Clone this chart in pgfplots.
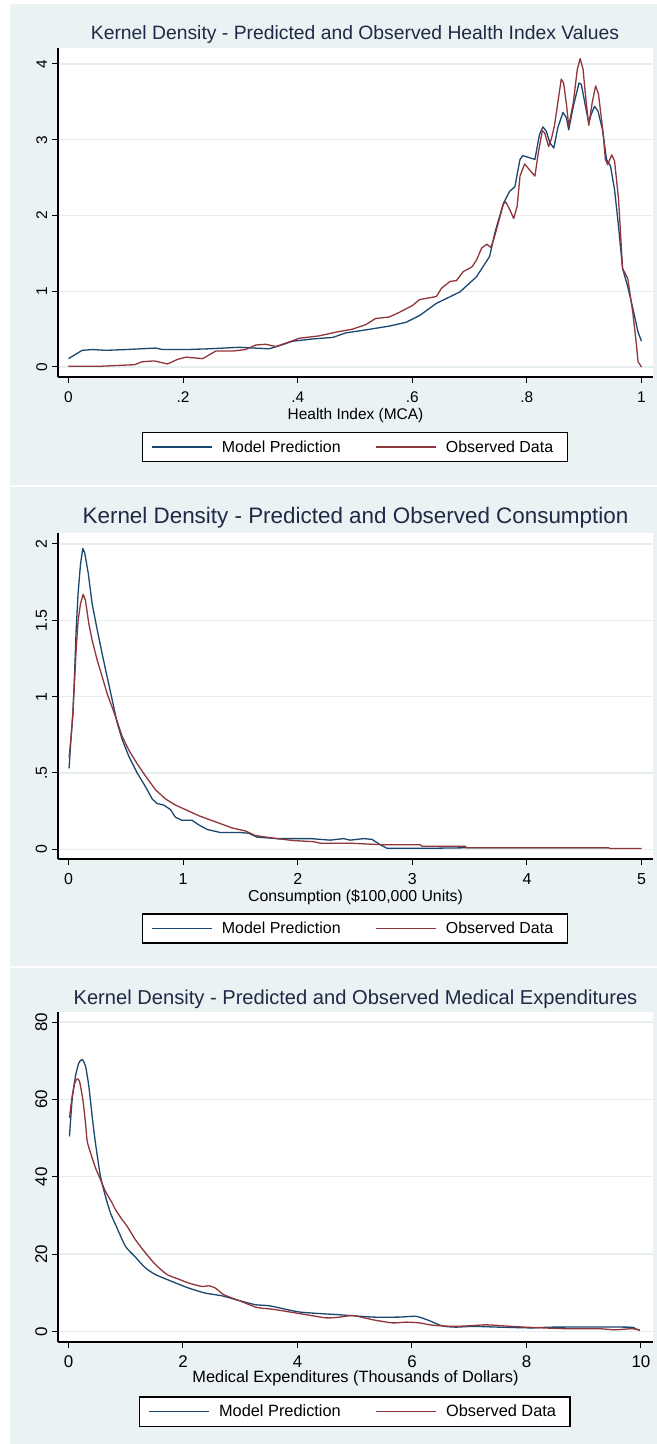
\documentclass[border=0pt]{standalone}
\usepackage{pgfplots}
\pgfplotsset{compat=1.18}
\usepackage{fontspec}
\setmainfont{Liberation Sans}
\definecolor{stbg}{RGB}{234,242,243}
\definecolor{stgrid}{RGB}{230,238,240}
\definecolor{stblue}{RGB}{26,71,111}
\definecolor{stred}{RGB}{144,53,59}
\definecolor{sttitle}{RGB}{30,42,70}

\pgfplotsset{
 statastyle/.style={
  scale only axis,
  axis x line*=bottom, axis y line*=left,
  axis line style={black, line width=1.1bp, -},
  tick align=outside,
  major tick length=6bp,
  tick style={black, line width=1bp},
  ymajorgrids, grid style={stgrid, line width=1.3bp},
  axis background/.style={fill=white},
  legend columns=2,
  legend cell align=left,
  legend style={draw=black, line width=1.1bp, fill=white, inner xsep=9bp, inner ysep=6bp,
     anchor=center,
     /tikz/every odd column/.append style={column sep=4bp},
     /tikz/every even column/.append style={column sep=30bp},
     nodes={inner xsep=5bp, inner ysep=2bp}},
  legend image code/.code={\draw[#1] (0bp,0bp) -- (60bp,0bp);},
  every axis plot/.append style={line width=1.3bp, line join=round},
  title style={anchor=base, text=sttitle, yshift=-5bp},
  xlabel style={anchor=base},
  yticklabel style={rotate=90, anchor=base, yshift=5bp},
  xticklabel style={anchor=base, yshift=-19.5bp},
 }
}

\begin{document}
\begin{tikzpicture}
\fill[white] (0,0) rectangle (657bp,1444bp);
\fill[stbg] (10bp,959bp) rectangle (657bp,1440bp);
\fill[stbg] (10bp,478bp) rectangle (657bp,957bp);
\fill[stbg] (10bp,0bp) rectangle (657bp,476bp);

% ---------------- Panel 1
\begin{axis}[statastyle,
  at={(58bp,1067bp)}, anchor=south west,
  width=595bp, height=329bp,
  xmin=-0.01832, xmax=1.0201, ymin=-0.132, ymax=4.211,
  xtick={0,0.2,0.4,0.6,0.8,1}, xticklabels={0,.2,.4,.6,.8,1},
  ytick={0,1,2,3,4}, yticklabels={0,1,2,3,4},
  tick label style={font=\fontsize{15.5}{18}\selectfont},
  xlabel={Health Index (MCA)},
  label style={font=\fontsize{15.5}{18}\selectfont},
  xlabel style={at={(0.5,-0.1307)}},
  title={Kernel Density - Predicted and Observed Health Index Values},
  title style={at={(0.4992,1.0243)}, font=\fontsize{19.4}{22}\selectfont},
  legend style={at={(0.499,-0.2128)}, font=\fontsize{16}{18}\selectfont},
]
\addplot[stblue] coordinates {
(0,0.11) (0.024,0.22) (0.042,0.23) (0.065,0.22) (0.10,0.23) (0.152,0.25) (0.164,0.23) (0.205,0.23) (0.245,0.24) (0.298,0.26) (0.35,0.24) (0.368,0.28) (0.391,0.34) (0.426,0.37) (0.461,0.39) (0.484,0.45) (0.519,0.49) (0.56,0.54) (0.589,0.59) (0.613,0.68) (0.642,0.84) (0.683,0.99) (0.712,1.19) (0.735,1.46) (0.744,1.77) (0.759,2.16) (0.770,2.32) (0.779,2.38) (0.788,2.74) (0.793,2.79) (0.814,2.74) (0.822,3.07) (0.828,3.17) (0.834,3.11) (0.840,2.96) (0.847,2.89) (0.854,3.16) (0.863,3.36) (0.869,3.29) (0.873,3.13) (0.881,3.44) (0.891,3.75) (0.895,3.73) (0.901,3.49) (0.908,3.22) (0.912,3.33) (0.918,3.44) (0.924,3.38) (0.932,3.13) (0.939,2.74) (0.946,2.65) (0.953,2.34) (0.960,1.85) (0.967,1.30) (0.976,1.06) (0.985,0.77) (0.994,0.46) (1.0,0.34)
};
\addlegendentry{Model Prediction}
\addplot[stred] coordinates {
(0,0.01) (0.056,0.01) (0.115,0.03) (0.129,0.07) (0.15,0.08) (0.173,0.04) (0.19,0.10) (0.205,0.13) (0.234,0.11) (0.257,0.21) (0.286,0.21) (0.309,0.23) (0.327,0.29) (0.344,0.30) (0.362,0.27) (0.385,0.33) (0.403,0.38) (0.437,0.41) (0.467,0.46) (0.496,0.50) (0.519,0.56) (0.536,0.64) (0.56,0.66) (0.577,0.72) (0.60,0.81) (0.613,0.89) (0.642,0.93) (0.651,1.04) (0.666,1.13) (0.677,1.14) (0.689,1.26) (0.704,1.32) (0.712,1.41) (0.721,1.57) (0.730,1.62) (0.737,1.58) (0.742,1.68) (0.750,1.90) (0.759,2.15) (0.763,2.18) (0.770,2.08) (0.777,1.96) (0.783,2.12) (0.788,2.52) (0.796,2.68) (0.805,2.60) (0.814,2.52) (0.820,2.83) (0.827,3.12) (0.831,3.09) (0.838,2.91) (0.843,3.02) (0.848,3.18) (0.854,3.49) (0.860,3.80) (0.864,3.75) (0.869,3.47) (0.873,3.18) (0.881,3.49) (0.888,3.93) (0.893,4.07) (0.898,3.93) (0.903,3.53) (0.908,3.19) (0.914,3.49) (0.920,3.71) (0.925,3.60) (0.933,3.09) (0.937,2.74) (0.941,2.67) (0.948,2.80) (0.953,2.72) (0.960,2.21) (0.967,1.30) (0.976,1.17) (0.985,0.71) (0.991,0.31) (0.994,0.07) (1.0,0.0)
};
\addlegendentry{Observed Data}
\end{axis}

% ---------------- Panel 2
\begin{axis}[statastyle,
  at={(58bp,585bp)}, anchor=south west,
  width=595bp, height=326bp,
  xmin=-0.0916, xmax=5.100, ymin=-0.0635, ymax=2.072,
  xtick={0,1,2,3,4,5}, xticklabels={0,1,2,3,4,5},
  ytick={0,0.5,1,1.5,2}, yticklabels={0,.5,1,1.5,2},
  tick label style={font=\fontsize{16}{18}\selectfont},
  xlabel={Consumption (\$100,000 Units)},
  label style={font=\fontsize{15.9}{18}\selectfont},
  xlabel style={at={(0.5,-0.1319)}},
  title={Kernel Density - Predicted and Observed Consumption},
  title style={at={(0.5,1.0276)}, font=\fontsize{22.5}{26}\selectfont},
  legend style={at={(0.499,-0.2132)}, font=\fontsize{16}{18}\selectfont},
]
\addplot[stblue] coordinates {
(0.005,0.53) (0.023,0.74) (0.038,0.88) (0.052,1.13) (0.067,1.44) (0.084,1.68) (0.105,1.87) (0.125,1.97) (0.142,1.94) (0.172,1.81) (0.206,1.61) (0.25,1.44) (0.294,1.28) (0.337,1.13) (0.381,0.98) (0.424,0.83) (0.468,0.72) (0.526,0.61) (0.599,0.50) (0.672,0.41) (0.73,0.33) (0.773,0.30) (0.831,0.29) (0.89,0.26) (0.933,0.21) (0.991,0.19) (1.078,0.19) (1.137,0.16) (1.209,0.13) (1.325,0.11) (1.5,0.11) (1.572,0.105) (1.645,0.08) (1.819,0.07) (2.11,0.07) (2.284,0.06) (2.40,0.07) (2.458,0.06) (2.575,0.07) (2.648,0.065) (2.72,0.03) (2.778,0.007) (3.185,0.007) (3.476,0.01) (4.711,0.01)
};
\addlegendentry{Model Prediction}
\addplot[stred] coordinates {
(0.005,0.60) (0.023,0.74) (0.038,0.89) (0.052,1.09) (0.067,1.31) (0.084,1.50) (0.105,1.61) (0.128,1.67) (0.148,1.63) (0.177,1.48) (0.206,1.37) (0.25,1.24) (0.294,1.13) (0.337,1.02) (0.381,0.93) (0.424,0.84) (0.468,0.74) (0.526,0.65) (0.599,0.56) (0.672,0.48) (0.759,0.39) (0.846,0.33) (0.933,0.29) (1.049,0.25) (1.137,0.22) (1.282,0.18) (1.427,0.14) (1.544,0.12) (1.631,0.09) (1.819,0.07) (1.965,0.057) (2.139,0.05) (2.197,0.04) (2.458,0.04) (2.735,0.03) (3.069,0.03) (3.084,0.02) (3.462,0.02) (3.476,0.01) (4.711,0.01) (4.726,0.005) (5.0,0.005)
};
\addlegendentry{Observed Data}
\end{axis}

% ---------------- Panel 3
\begin{axis}[statastyle,
  at={(58bp,102bp)}, anchor=south west,
  width=595bp, height=330bp,
  xmin=-0.1834, xmax=10.21, ymin=-2.74, ymax=82.59,
  xtick={0,2,4,6,8,10}, xticklabels={0,2,4,6,8,10},
  ytick={0,20,40,60,80}, yticklabels={0,20,40,60,80},
  tick label style={font=\fontsize{17}{19}\selectfont},
  xlabel={Medical Expenditures (Thousands of Dollars)},
  label style={font=\fontsize{16.4}{19}\selectfont},
  xlabel style={at={(0.5,-0.1242)}},
  title={Kernel Density - Predicted and Observed Medical Expenditures},
  title style={at={(0.5,1.0212)}, font=\fontsize{20.2}{24}\selectfont},
  legend style={at={(0.499,-0.2112)}, font=\fontsize{16.4}{19}\selectfont},
]
\addplot[stblue, smooth, tension=0.35] coordinates {
(0.017,50.4) (0.064,60.0) (0.122,66.0) (0.18,69.4) (0.239,70.3) (0.297,68.6) (0.355,63.4) (0.413,55.6) (0.471,48.7) (0.558,40.1) (0.646,34.9) (0.733,30.6) (0.849,26.7) (0.995,22.0) (1.169,19.2) (1.344,16.4) (1.518,14.7) (1.809,12.9) (2.10,11.2) (2.391,9.9) (2.682,9.2) (2.973,8.0) (3.264,6.9) (3.52,6.6) (4.04,5.0) (4.74,4.3) (5.32,3.7) (5.78,3.7) (6.07,3.9) (6.30,2.8) (6.53,1.4) (6.77,1.1) (7.06,1.3) (7.52,1.1) (8.10,0.9) (8.45,1.1) (9.78,1.1) (9.90,0.7) (9.98,0.3)
};
\addlegendentry{Model Prediction}
\addplot[stred, smooth, tension=0.35] coordinates {
(0.017,55.2) (0.064,60.8) (0.111,64.3) (0.151,65.3) (0.192,64.7) (0.25,60.0) (0.297,53.9) (0.326,49.2) (0.384,46.2) (0.471,42.3) (0.558,39.3) (0.646,36.2) (0.762,33.2) (0.82,31.5) (0.937,28.9) (1.024,27.2) (1.169,23.7) (1.344,20.3) (1.518,17.3) (1.722,14.7) (1.926,13.5) (2.10,12.5) (2.333,11.6) (2.449,11.8) (2.566,11.2) (2.711,9.5) (2.973,8.0) (3.29,6.2) (3.58,5.7) (4.04,4.6) (4.50,3.5) (4.74,3.7) (4.97,4.1) (5.32,3.0) (5.66,2.2) (5.90,2.4) (6.13,2.2) (6.36,1.6) (6.71,1.3) (6.94,1.4) (7.29,1.7) (7.63,1.4) (7.98,1.1) (8.68,0.7) (9.26,0.7) (9.55,0.4) (9.84,0.7) (9.98,0.3)
};
\addlegendentry{Observed Data}
\end{axis}
\pgfresetboundingbox
\useasboundingbox (0,0) rectangle (657bp,1444bp);
\end{tikzpicture}
\end{document}
